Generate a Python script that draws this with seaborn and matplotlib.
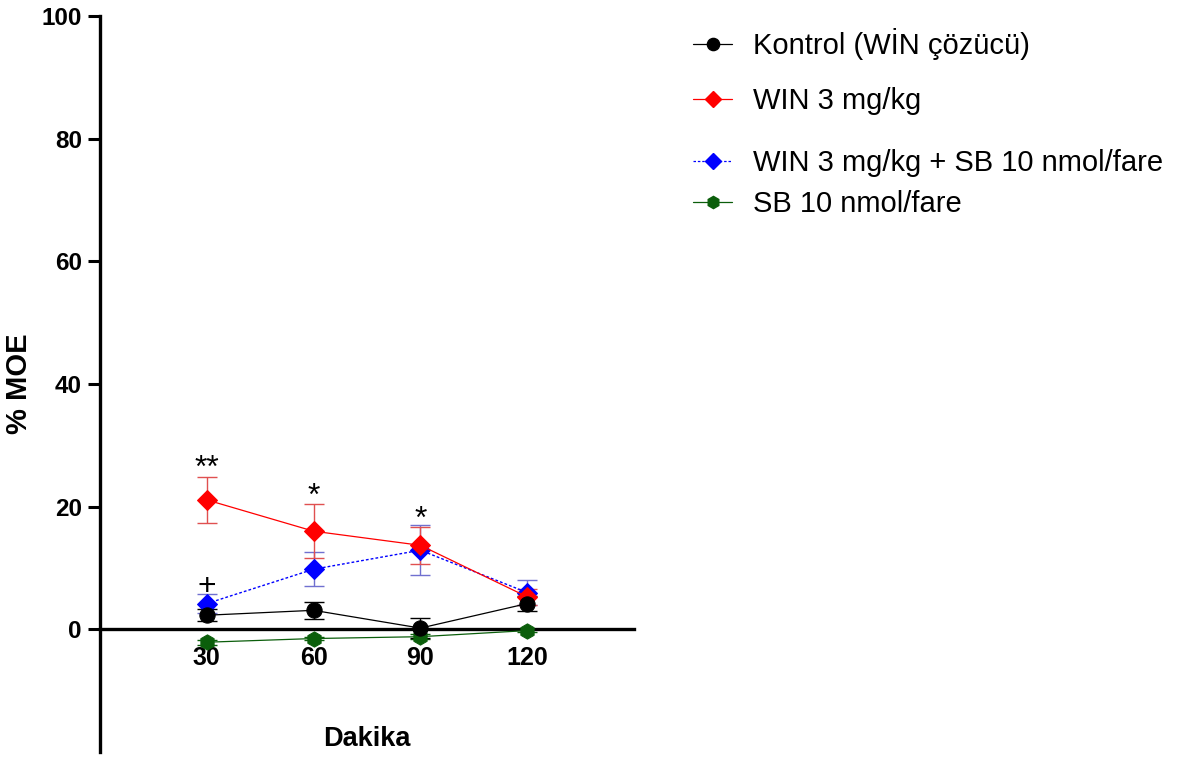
import matplotlib
matplotlib.use("Agg")
import matplotlib.pyplot as plt
import seaborn as sns
import pandas as pd
from matplotlib.lines import Line2D

# Time points (minutes after injection)
minutes = [30, 60, 90, 120]

# Group means and SEM (% MOE)
kontrol_mean = [2.3, 3.1, 0.2, 4.2]
kontrol_sem = [1.0, 1.4, 1.6, 1.2]
win_mean = [21.1, 16.0, 13.7, 5.3]
win_sem = [3.8, 4.4, 3.0, 1.3]
win_sb_mean = [4.2, 9.8, 12.9, 6.0]
win_sb_sem = [1.5, 2.8, 4.1, 2.1]
sb_mean = [-2.1, -1.5, -1.2, -0.2]
sb_sem = [0.4, 0.3, 0.4, 0.3]

labels = ["Kontrol (WİN çözücü)", "WIN 3 mg/kg",
          "WIN 3 mg/kg + SB 10 nmol/fare", "SB 10 nmol/fare"]
yticks = [0, 20, 40, 60, 80, 100]

# Significance marks: (x, label, series index)
sig_marks = [(30, "**", 1), (60, "*", 1), (90, "*", 1), (30, "+", 2)]

sns.set_style("ticks")
plt.rcParams["font.family"] = ["Liberation Sans", "DejaVu Sans"]
plt.rcParams["text.color"] = "black"
plt.rcParams["axes.labelcolor"] = "black"
plt.rcParams["xtick.color"] = "black"
plt.rcParams["ytick.color"] = "black"
plt.rcParams["axes.edgecolor"] = "black"

fig = plt.figure(figsize=(11.78, 7.58), dpi=100)
W, H = 1178, 758
ax = fig.add_axes([100 / W, 6 / H, 534 / W, 736 / H])

# Bottom axis line runs through y = 0
ax.spines["bottom"].set_position(("data", 0))
ax.spines["top"].set_visible(False)
ax.spines["right"].set_visible(False)
ax.spines["left"].set_linewidth(2.4)
ax.spines["bottom"].set_linewidth(2.4)

series = [
    dict(mean=kontrol_mean, sem=kontrol_sem, color="black", ecolor="black",
         marker="o", ms=11, ls="-", lw=0.9),
    dict(mean=win_mean, sem=win_sem, color="#ff0000", ecolor="#e05050",
         marker="D", ms=10, ls="-", lw=0.9),
    dict(mean=win_sb_mean, sem=win_sb_sem, color="#0000ff", ecolor="#7070d0",
         marker="D", ms=10, ls=(0, (2, 1.5)), lw=1.0),
    dict(mean=sb_mean, sem=sb_sem, color="#0b5e0b", ecolor="#0b5e0b",
         marker="h", ms=11, ls="-", lw=0.9),
]

draw_order = [3, 2, 1, 0]
for i in draw_order:
    s = series[i]
    df = pd.DataFrame({"Dakika": minutes, "MOE": s["mean"]})
    ax.errorbar(minutes, s["mean"], yerr=s["sem"], fmt="none",
                ecolor=s["ecolor"], elinewidth=1.0, capsize=7,
                capthick=1.0, zorder=2 + (3 - i) * 0.1)
    sns.lineplot(data=df, x="Dakika", y="MOE", ax=ax, color=s["color"],
                 marker=s["marker"], markersize=s["ms"],
                 markeredgecolor=s["color"], linestyle=s["ls"],
                 linewidth=s["lw"], zorder=3 + (3 - i) * 0.1)

# Significance annotations above the error bars
for x, txt, idx in sig_marks:
    k = minutes.index(x)
    top = series[idx]["mean"][k] + series[idx]["sem"][k]
    ax.text(x, top - 0.1, txt, ha="center", va="baseline",
            fontsize=23, color="black")

ax.set_xlim(0, 150)
ax.set_ylim(-20, 100)
ax.set_xticks(minutes)
ax.set_xticklabels([str(m) for m in minutes], fontsize=18, fontweight="bold")
ax.set_yticks(yticks)
ax.set_yticklabels([str(t) for t in yticks], fontsize=17.5, fontweight="bold")
ax.tick_params(axis="x", length=0, pad=12)
ax.tick_params(axis="y", length=9, width=2.2, pad=4)

ax.set_xlabel("Dakika", fontsize=19.5, fontweight="bold")
ax.xaxis.set_label_coords(0.5, 0.036)
ax.set_ylabel("% MOE", fontsize=21, fontweight="bold")
ax.yaxis.set_label_coords(-0.125, 0.5)

# Legend: one entry per row, placed individually
legend_y = [44, 101, 163, 204]
for s, lbl, yp in zip(series, labels, legend_y):
    h = Line2D([0], [0], color=s["color"], linestyle=s["ls"], linewidth=0.9,
               marker=s["marker"], markersize=s["ms"] * 0.8,
               markeredgecolor=s["color"])
    fig.legend(handles=[h], labels=[lbl], loc="center left",
               bbox_to_anchor=(693 / W, 1 - yp / H), frameon=False,
               fontsize=21, handlelength=1.35, handletextpad=0.7,
               borderpad=0, borderaxespad=0)

fig.savefig("out.png", dpi=100)
